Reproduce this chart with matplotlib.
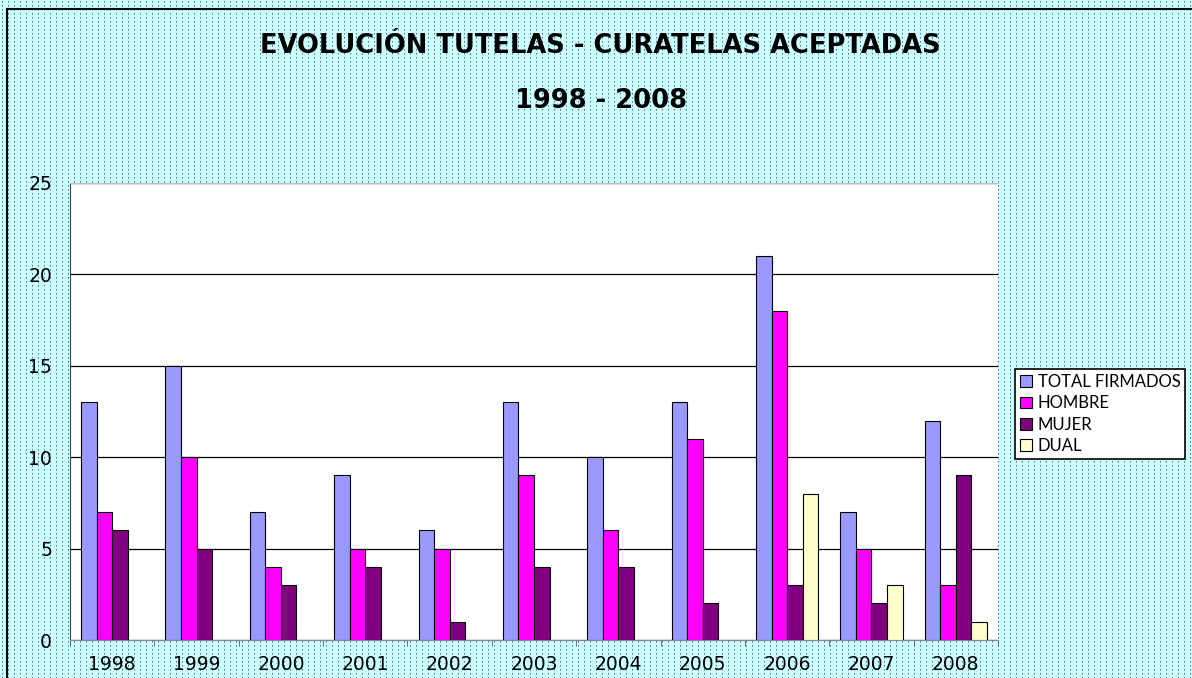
import numpy as np
import matplotlib.pyplot as plt
from matplotlib.lines import Line2D
from matplotlib.patches import Patch

# datos
anios = ['1998', '1999', '2000', '2001', '2002', '2003', '2004', '2005', '2006', '2007', '2008']
total_firmados = [13, 15, 7, 9, 6, 13, 10, 13, 21, 7, 12]
hombre = [7, 10, 4, 5, 5, 9, 6, 11, 18, 5, 3]
mujer = [6, 5, 3, 4, 1, 4, 4, 2, 3, 2, 9]
dual = [0, 0, 0, 0, 0, 0, 0, 0, 8, 3, 1]

series = [
    ("TOTAL FIRMADOS", total_firmados, "#9999ff"),
    ("HOMBRE", hombre, "#ff00ff"),
    ("MUJER", mujer, "#800080"),
    ("DUAL", dual, "#ffffcc"),
]

W, H = 1192, 678
fig = plt.figure(figsize=(W / 100, H / 100), dpi=100)

# fondo punteado tipo Excel
fondo = np.ones((H, W, 3))
fondo[:, :] = [0.80, 1.0, 1.0]
fondo[1::4, 2::6] = [0.30, 0.45, 0.60]
fondo[2::4, 2::6] = [0.55, 0.70, 0.85]
fig.figimage(fondo, 0, 0, zorder=-5)
fig.add_artist(Line2D([7 / W, 7 / W], [0, 1 - 9 / H], color='black', linewidth=1.5, transform=fig.transFigure))
fig.add_artist(Line2D([7 / W, 1], [1 - 9 / H, 1 - 9 / H], color='black', linewidth=1.5, transform=fig.transFigure))

ax = fig.add_axes([70 / W, 38 / H, 928 / W, 457 / H])
ax.set_facecolor('white')
ax.set_zorder(2)

x = np.arange(len(anios))
ancho = 0.184
handles = []
for i, (nombre, valores, color) in enumerate(series):
    barras = ax.bar(x + (i - 1.5) * ancho, valores, ancho, color=color, edgecolor='black',
                    linewidth=0.8, zorder=3)
    # las barras en cero no se ven en el original
    for b, v in zip(barras, valores):
        if v == 0:
            b.set_visible(False)
    handles.append(Patch(facecolor=color, edgecolor='black', linewidth=0.8, label=nombre))

ax.set_xlim(-0.5, len(anios) - 0.5)
ax.set_ylim(0, 25)
ax.set_yticks([0, 5, 10, 15, 20, 25])
ax.set_xticks(x)
ax.set_xticklabels(anios)
ax.set_xticks(np.arange(-0.5, len(anios)), minor=True)
ax.tick_params(axis='x', which='major', length=0, pad=11, labelsize=13.5)
ax.tick_params(axis='x', which='minor', length=4, color='#555555')
ax.tick_params(axis='y', length=0, pad=13, labelsize=13.5)
for lab in ax.get_xticklabels() + ax.get_yticklabels():
    lab.set_family('DejaVu Sans')

ax.yaxis.grid(True, color='black', linewidth=0.9)
ax.set_axisbelow(True)
ax.spines['right'].set_visible(False)
ax.spines['top'].set_color('#bbbbbb')
ax.spines['left'].set_color('#444444')
ax.spines['bottom'].set_color('#888888')

fig.text(0.504, 1 - 46 / H, "EVOLUCIÓN TUTELAS - CURATELAS ACEPTADAS", ha='center', va='center',
         fontsize=18.5, fontweight='bold', family='DejaVu Sans')
fig.text(0.504, 1 - 101 / H, "1998 - 2008", ha='center', va='center',
         fontsize=18.5, fontweight='bold', family='DejaVu Sans')

leg = ax.legend(handles=handles, loc='upper left', bbox_to_anchor=(1015 / W, 1 - 369 / H),
                bbox_transform=fig.transFigure,
                fancybox=False, edgecolor='black', framealpha=1, borderaxespad=0,
                handlelength=0.7, handleheight=0.7, handletextpad=0.35, labelspacing=0.32,
                borderpad=0.3, prop={'family': 'Lato', 'size': 12})
leg.get_frame().set_linewidth(1.2)

fig.savefig('out.png', dpi=100)
